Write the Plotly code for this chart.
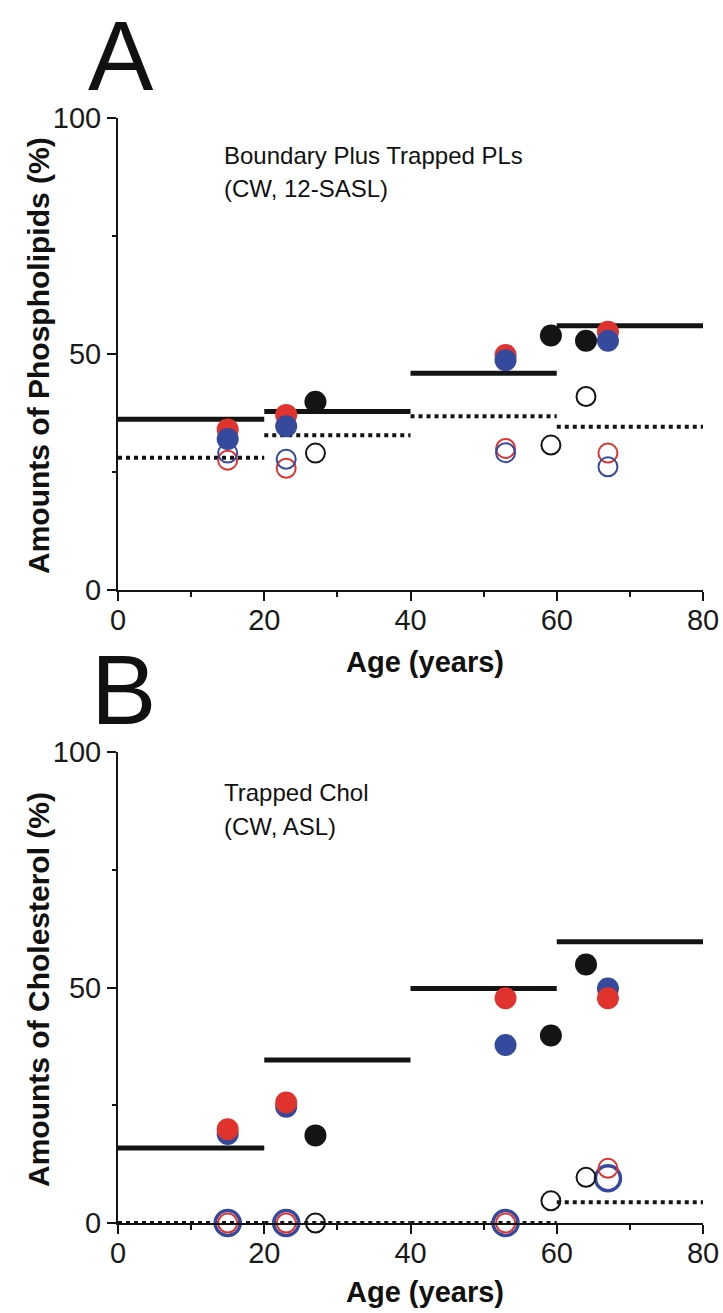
import plotly.graph_objects as go

W, H = 723, 1313

# ---------------- data ----------------
bin_edges = [0, 20, 40, 60, 80]

# Panel A: Boundary plus trapped PLs
a_solid = [36.2, 37.8, 45.9, 56.0]
a_dotted = [28.0, 32.8, 36.8, 34.6]
rb_ages = [15, 23, 53, 67]
a_red_filled = [34.0, 37.1, 49.8, 54.7]
a_blue_filled = [32.0, 34.7, 48.7, 52.8]
a_red_open = [27.5, 25.8, 30.0, 29.0]
a_blue_open = [29.0, 27.7, 29.1, 26.1]
black_ages = [27, 59.2, 64]
a_black_filled = [39.9, 53.9, 52.8]
a_black_open = [29.0, 30.7, 41.0]

# Panel B: Trapped Chol
b_solid = [15.9, 34.6, 49.8, 59.7]
b_dotted = [0, 0, 0, 4.4]
b_red_filled = [19.9, 25.6, 47.7, 47.7]
b_blue_filled = [18.9, 24.7, 37.8, 49.8]
b_red_open = [0, 0, 0, 11.6]
b_blue_open = [0, 0, 0, 9.5]
b_black_filled = [18.6, 39.8, 54.9]
b_black_open = [0, 4.7, 9.7]

x_ticks = [0, 20, 40, 60, 80]
x_minor = [10, 30, 50, 70]
y_ticks = [0, 50, 100]
y_minor = [25, 75]

RED = "#e1332e"
BLUE = "#354a9c"
BLACK = "#141414"
FONT = "Liberation Sans, Arial, sans-serif"


def px(x):
    return x / W


def py(y):
    return 1 - y / H


def segments(vals):
    xs, ys = [], []
    for i, v in enumerate(vals):
        xs += [bin_edges[i], bin_edges[i + 1], None]
        ys += [v, v, None]
    return xs, ys


fig = go.Figure()


def add_lines(vals, dash, xa, ya):
    xs, ys = segments(vals)
    fig.add_trace(go.Scatter(x=xs, y=ys, mode="lines", xaxis=xa, yaxis=ya,
                             line=dict(color=BLACK, width=5 if dash == "solid" else 4,
                                       dash=dash),
                             cliponaxis=False, showlegend=False, hoverinfo="skip"))


def add_pts(xv, yv, color, filled, xa, ya, size=22, lw=2.0):
    if filled:
        marker = dict(size=size, color=color, line=dict(width=0))
    else:
        marker = dict(size=size, color="rgba(0,0,0,0)", line=dict(color=color, width=lw))
    fig.add_trace(go.Scatter(x=xv, y=yv, mode="markers", xaxis=xa, yaxis=ya,
                             marker=marker, cliponaxis=False, showlegend=False))


# Panel A
add_lines(a_solid, "solid", "x", "y")
add_lines(a_dotted, "4px,4px", "x", "y")
add_pts(rb_ages, a_red_open, RED, False, "x", "y", size=19)
add_pts(rb_ages, a_blue_open, BLUE, False, "x", "y", size=19)
add_pts(rb_ages, a_red_filled, RED, True, "x", "y")
add_pts(rb_ages, a_blue_filled, BLUE, True, "x", "y")
add_pts(black_ages, a_black_filled, BLACK, True, "x", "y")
add_pts(black_ages, a_black_open, BLACK, False, "x", "y", size=19)

# Panel B
add_lines(b_solid, "solid", "x2", "y2")
add_lines(b_dotted, "4px,4px", "x2", "y2")
add_pts(rb_ages, b_blue_open, BLUE, False, "x2", "y2", size=25, lw=3.5)
add_pts(rb_ages, b_red_open, RED, False, "x2", "y2", size=19)
add_pts(rb_ages, b_blue_filled, BLUE, True, "x2", "y2")
add_pts(rb_ages, b_red_filled, RED, True, "x2", "y2")
add_pts(black_ages, b_black_filled, BLACK, True, "x2", "y2")
add_pts(black_ages, b_black_open, BLACK, False, "x2", "y2", size=19)

xdom = [px(118), px(703)]
tickfont = dict(family=FONT, size=29, color="#1a1a1a")
xcommon = dict(range=[0, 80], tickvals=x_ticks, showgrid=False, zeroline=False,
               showline=True, linecolor=BLACK, linewidth=2, ticks="outside",
               ticklen=9, tickwidth=2, tickcolor=BLACK, tickfont=tickfont,
               automargin=False, ticklabelstandoff=-6,
               minor=dict(tickvals=x_minor, ticks="outside", ticklen=5,
                          tickwidth=1.5, tickcolor=BLACK),
               domain=xdom)
ycommon = dict(range=[0, 100], tickvals=y_ticks, showgrid=False, zeroline=False,
               showline=True, linecolor=BLACK, linewidth=2, ticks="outside",
               ticklen=9, tickwidth=2, tickcolor=BLACK, tickfont=tickfont,
               automargin=False,
               minor=dict(tickvals=y_minor, ticks="outside", ticklen=4,
                          tickwidth=1.5, tickcolor=BLACK))

fig.update_layout(
    width=W, height=H, margin=dict(l=0, r=0, t=0, b=0, pad=0),
    paper_bgcolor="white", plot_bgcolor="white", showlegend=False,
    xaxis=dict(**xcommon, anchor="y"),
    yaxis=dict(**ycommon, domain=[py(590), py(118)], anchor="x"),
    xaxis2=dict(**xcommon, anchor="y2"),
    yaxis2=dict(**ycommon, domain=[py(1223), py(752)], anchor="x2"),
)


def ann(text, x, y, size, bold=False, angle=0, xanchor="center", height=None):
    t = f"<b>{text}</b>" if bold else text
    fig.add_annotation(text=t, x=px(x), y=py(y), xref="paper", yref="paper",
                       showarrow=False, textangle=angle, xanchor=xanchor,
                       yanchor="middle", height=height, valign="middle",
                       font=dict(family=FONT, size=size, color="#111111"))


# panel letters
ann("A", 121, 56, 98, height=82)
ann("B", 123, 690, 98, height=82)
# panel inner labels
ann("Boundary Plus Trapped PLs", 222, 155, 24, xanchor="left")
ann("(CW, 12-SASL)", 222, 188, 24, xanchor="left")
ann("Trapped Chol", 222, 792, 24, xanchor="left")
ann("(CW, ASL)", 222, 826, 24, xanchor="left")
# axis titles
ann("Age (years)", 425, 662, 29, bold=True)
ann("Age (years)", 425, 1292, 29, bold=True)
ann("Amounts of Phospholipids (%)", 38, 356, 30, bold=True, angle=-90)
ann("Amounts of Cholesterol (%)", 38, 990, 30, bold=True, angle=-90)

fig.write_html(
    "out.html",
    config={"displayModeBar": False},
    post_script="document.body.style.margin='0';document.body.style.padding='0';",
)
